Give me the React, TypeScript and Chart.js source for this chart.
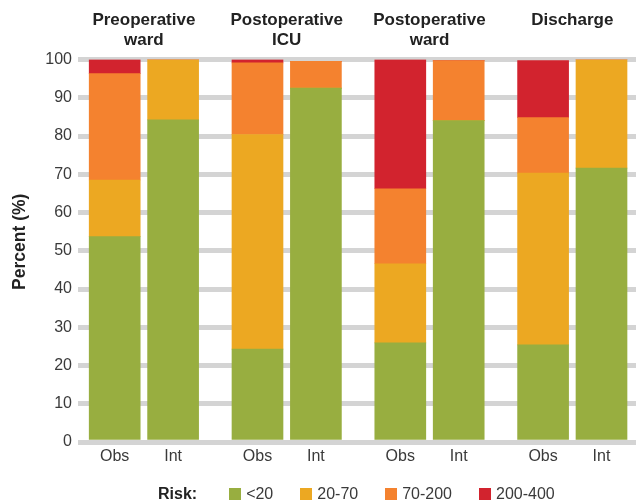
import React, { useEffect, useRef } from "react";
import { Chart, registerables } from "chart.js";

Chart.register(...registerables);

// ---- Data ----
const groupHeaders: string[][] = [
  ["Preoperative", "ward"],
  ["Postoperative", "ICU"],
  ["Postoperative", "ward"],
  ["Discharge"],
];
const subLabels = ["Obs", "Int"];
const riskLabels = ["<20", "20-70", "70-200", "200-400"];
const riskColors = ["#98ae40", "#eca822", "#f4822f", "#d2232e"];
// order: Obs, Int for each group
const riskLt20 = [53.7, 84.2, 24.3, 92.5, 25.9, 84.0, 25.4, 71.6];
const risk20to70 = [14.8, 15.8, 56.1, 0, 20.7, 0, 44.9, 28.4];
const risk70to200 = [27.8, 0, 18.7, 7.0, 19.6, 15.7, 14.5, 0];
const risk200to400 = [3.7, 0, 0.9, 0, 33.8, 0, 14.9, 0];
const yTicks = [0, 10, 20, 30, 40, 50, 60, 70, 80, 90, 100];
const yTitle = "Percent (%)";
const legendTitle = "Risk:";

const series = [riskLt20, risk20to70, risk70to200, risk200to400];

// ---- Layout constants ----
const PAIR_OFFSET = 0.2045;
const X_MIN = -0.4615;
const X_MAX = 3.4461;
const FONT = '"Liberation Sans", Arial, sans-serif';
const TEXT = "#3a3a3a";
const GRID = "#d4d4d4";

const xPos = (i: number) => Math.floor(i / 2) + (i % 2 === 0 ? -PAIR_OFFSET : PAIR_OFFSET);

const yTitlePlugin = {
  id: "yTitlePlugin",
  afterDatasetsDraw(chart: any) {
    // baseline (zero) grid band drawn over the bar bottoms
    const ctx = chart.ctx;
    const { left, right } = chart.chartArea;
    const y0 = chart.scales.y.getPixelForValue(0);
    ctx.save();
    ctx.strokeStyle = GRID;
    ctx.lineWidth = 5;
    ctx.beginPath();
    ctx.moveTo(left, y0 + 0.5);
    ctx.lineTo(right, y0 + 0.5);
    ctx.stroke();
    ctx.restore();
  },
  afterDraw(chart: any) {
    const ctx = chart.ctx;
    const { top, bottom } = chart.chartArea;
    ctx.save();
    ctx.translate(20.5, (top + bottom) / 2 - 9);
    ctx.rotate(-Math.PI / 2);
    ctx.font = `bold 17.5px ${FONT}`;
    ctx.fillStyle = "#222";
    ctx.textAlign = "center";
    ctx.textBaseline = "middle";
    ctx.fillText(yTitle, 0, 0);
    ctx.restore();
  },
};

export default function App() {
  const canvasRef = useRef<HTMLCanvasElement>(null);

  useEffect(() => {
    if (!canvasRef.current) return;
    const chart = new Chart(canvasRef.current, {
      type: "bar",
      data: {
        datasets: series.map((vals, k) => ({
          label: riskLabels[k],
          data: vals.map((v, i) => ({ x: xPos(i), y: v })),
          backgroundColor: riskColors[k],
          borderWidth: 0,
          barThickness: 51,
          stack: "all",
        })),
      },
      options: {
        responsive: false,
        animation: false,
        layout: { padding: { left: 0, right: 3, top: 0, bottom: 0 } },
        plugins: { legend: { display: false }, tooltip: { enabled: false } },
        scales: {
          x: {
            type: "linear",
            position: "bottom",
            offset: false,
            min: X_MIN,
            max: X_MAX,
            grid: { display: false, drawTicks: false, offset: false },
            border: { display: false },
            afterBuildTicks: (s: any) => {
              s.ticks = riskLt20.map((_, i) => ({ value: xPos(i) }));
            },
            afterFit: (s: any) => {
              s.height = 61;
            },
            ticks: {
              autoSkip: false,
              maxRotation: 0,
              padding: 5,
              color: TEXT,
              font: { family: FONT, size: 16 },
              callback: (_v: any, idx: number) => subLabels[idx % 2],
            },
          },
          xTop: {
            type: "linear",
            position: "top",
            offset: false,
            min: X_MIN,
            max: X_MAX,
            grid: { display: false, drawTicks: false, offset: false },
            border: { display: false },
            afterBuildTicks: (s: any) => {
              s.ticks = groupHeaders.map((_, g) => ({ value: g }));
            },
            afterFit: (s: any) => {
              s.height = 59.5;
            },
            ticks: {
              autoSkip: false,
              maxRotation: 0,
              padding: 9,
              crossAlign: "far",
              color: "#222",
              font: { family: FONT, size: 17, weight: "bold", lineHeight: "20px" },
              callback: (_v: any, idx: number) => groupHeaders[idx],
            },
          },
          y: {
            type: "linear",
            min: 0,
            max: 100,
            stacked: true,
            grid: { color: GRID, lineWidth: 5, drawTicks: false },
            border: { display: false },
            afterBuildTicks: (s: any) => {
              s.ticks = yTicks.map((v) => ({ value: v }));
            },
            afterFit: (s: any) => {
              s.width = 78;
            },
            ticks: {
              padding: 6,
              color: TEXT,
              font: { family: FONT, size: 16 },
              callback: (v: any) => String(v),
            },
          },
        },
      } as any,
      plugins: [yTitlePlugin],
    });
    return () => chart.destroy();
  }, []);

  return (
    <div style={{ position: "fixed", left: 0, top: 0, width: 639, height: 503, background: "#fff" }}>
      <canvas ref={canvasRef} width={639} height={503} style={{ width: 639, height: 503, display: "block" }} />
      <div
        style={{
          position: "absolute",
          left: 158,
          top: 484,
          height: 20,
          display: "flex",
          alignItems: "center",
          fontFamily: FONT,
          fontSize: 16,
          color: TEXT,
          whiteSpace: "nowrap",
        }}
      >
        <span style={{ fontWeight: "bold", color: "#222", marginRight: 32 }}>{legendTitle}</span>
        {riskLabels.map((lab, k) => (
          <span key={lab} style={{ display: "flex", alignItems: "center", marginRight: 27 }}>
            <span style={{ display: "inline-block", width: 12, height: 12, background: riskColors[k], marginRight: 5 }} />
            <span>{lab}</span>
          </span>
        ))}
      </div>
    </div>
  );
}
